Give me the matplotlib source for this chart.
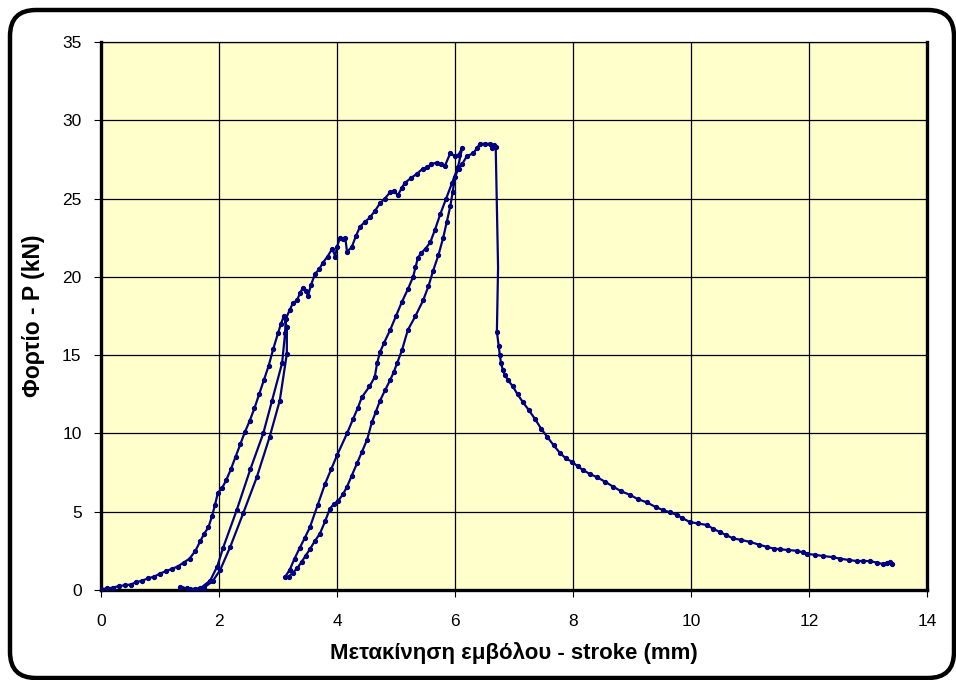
import numpy as np
import matplotlib
matplotlib.use("Agg")
import matplotlib.pyplot as plt
from matplotlib.patches import FancyBboxPatch

plt.rcParams['font.family'] = ['Liberation Sans', 'DejaVu Sans']

# stroke (mm) and load (kN), segment by segment
load1_x = [0.0, 0.1, 0.2, 0.3, 0.4, 0.5, 0.6, 0.7, 0.8, 0.9, 1.0, 1.1, 1.2, 1.3, 1.4, 1.5,
           1.6, 1.68, 1.75, 1.82, 1.88, 1.93, 1.98, 2.05, 2.12, 2.2, 2.28, 2.36, 2.44, 2.52,
           2.6, 2.68, 2.76, 2.84, 2.92, 3.0, 3.05, 3.1, 3.15]
load1_y = [0.05, 0.1, 0.15, 0.25, 0.3, 0.35, 0.5, 0.6, 0.75, 0.85, 1.05, 1.2, 1.35, 1.5, 1.75, 2.0,
           2.5, 3.1, 3.6, 4.0, 4.7, 5.4, 6.2, 6.5, 7.0, 7.7, 8.5, 9.3, 10.1, 10.8,
           11.6, 12.5, 13.4, 14.3, 15.4, 16.4, 17.0, 17.5, 16.8]

unload1_x = [3.15, 3.03, 2.86, 2.64, 2.41, 2.19, 2.02, 1.9, 1.75, 1.6, 1.45, 1.34]
unload1_y = [15.1, 12.1, 9.8, 7.2, 4.9, 2.75, 1.28, 0.6, 0.15, 0.05, 0.1, 0.2]

reload1_x = [1.5, 1.68, 1.85, 1.97, 2.07, 2.3, 2.53, 2.75, 2.9, 3.07, 3.12, 3.13, 3.2, 3.25,
             3.32, 3.38, 3.42, 3.47, 3.51, 3.56, 3.63, 3.7, 3.76, 3.84, 3.92, 3.97, 4.0, 4.05,
             4.1, 4.14, 4.17, 4.25, 4.32, 4.39, 4.47, 4.56, 4.64, 4.73, 4.81, 4.9, 4.97, 5.03,
             5.1, 5.15, 5.25, 5.36, 5.45, 5.53, 5.6, 5.69, 5.76, 5.83, 5.92, 6.0, 6.06, 6.12]
reload1_y = [0.05, 0.1, 0.6, 1.5, 2.7, 5.1, 7.7, 10.0, 12.1, 14.5, 16.4, 17.3, 17.9, 18.3,
             18.5, 19.0, 19.3, 19.1, 18.8, 19.5, 20.2, 20.5, 20.9, 21.3, 21.8, 21.3, 21.9, 22.5,
             22.4, 22.5, 21.6, 21.9, 22.6, 23.2, 23.5, 23.8, 24.2, 24.7, 25.0, 25.4, 25.5, 25.2,
             25.7, 26.0, 26.3, 26.6, 26.9, 27.0, 27.2, 27.3, 27.2, 27.1, 27.9, 27.7, 27.8, 28.2]

unload2_x = [6.05, 5.95, 5.85, 5.75, 5.66, 5.58, 5.5, 5.42, 5.37, 5.33, 5.29, 5.2, 5.1, 5.0,
             4.9, 4.8, 4.73, 4.68, 4.64, 4.55, 4.42, 4.35, 4.27, 4.17, 4.0, 3.9, 3.8, 3.67,
             3.54, 3.45, 3.37, 3.28, 3.2, 3.12]
unload2_y = [27.0, 26.0, 25.0, 24.0, 23.0, 22.2, 21.8, 21.5, 21.2, 20.6, 20.0, 19.2, 18.4, 17.5,
             16.6, 15.8, 15.2, 14.5, 13.6, 13.0, 12.3, 11.6, 10.9, 10.0, 8.6, 7.7, 6.8, 5.4,
             4.0, 3.3, 2.7, 2.0, 1.3, 0.83]

reload2_x = [3.18, 3.25, 3.33, 3.4, 3.47, 3.54, 3.62, 3.71, 3.8, 3.88, 3.95, 4.02, 4.1, 4.17,
             4.25, 4.34, 4.42, 4.51, 4.59, 4.66, 4.73, 4.82, 4.9, 4.96, 5.02, 5.1, 5.2, 5.33,
             5.46, 5.55, 5.63, 5.72, 5.8, 5.86, 5.92, 5.96, 6.0, 6.06, 6.12, 6.2, 6.31, 6.37,
             6.42, 6.5, 6.59, 6.63, 6.66, 6.69]
reload2_y = [0.85, 1.1, 1.4, 1.8, 2.2, 2.6, 3.1, 3.6, 4.4, 5.2, 5.5, 5.7, 6.1, 6.6,
             7.3, 8.1, 8.8, 9.6, 10.7, 11.4, 12.1, 12.8, 13.4, 13.9, 14.5, 15.3, 16.6, 17.5,
             18.5, 19.4, 20.4, 21.4, 22.5, 23.5, 24.5, 25.4, 26.4, 26.9, 27.2, 27.7, 27.9, 28.2,
             28.5, 28.5, 28.5, 28.2, 28.4, 28.3]

drop_x = [6.73, 6.71, 6.74, 6.76, 6.78, 6.81, 6.85, 6.9, 6.98, 7.06, 7.15, 7.25, 7.36, 7.46,
          7.56, 7.67, 7.78, 7.88, 7.98, 8.08, 8.17, 8.29, 8.41, 8.55, 8.68, 8.82, 8.97, 9.1,
          9.25, 9.4, 9.53, 9.65, 9.76, 9.85, 9.98, 10.12, 10.27, 10.38, 10.49, 10.6, 10.71,
          10.85, 11.0, 11.15, 11.29, 11.4, 11.51, 11.65, 11.8, 11.9, 11.97, 12.1, 12.24, 12.4,
          12.53, 12.67, 12.81, 12.92, 13.03, 13.15, 13.25, 13.33, 13.37, 13.4]
drop_y = [20.6, 16.5, 15.6, 15.0, 14.5, 14.05, 13.7, 13.4, 13.0, 12.5, 12.0, 11.5, 10.9, 10.3,
          9.8, 9.25, 8.75, 8.4, 8.2, 7.9, 7.66, 7.4, 7.2, 6.9, 6.6, 6.3, 6.07, 5.8,
          5.6, 5.3, 5.1, 4.95, 4.8, 4.6, 4.34, 4.25, 4.15, 3.9, 3.7, 3.5, 3.3,
          3.2, 3.07, 2.9, 2.75, 2.65, 2.6, 2.55, 2.5, 2.4, 2.3, 2.25, 2.17, 2.1,
          2.0, 1.92, 1.85, 1.85, 1.85, 1.75, 1.66, 1.7, 1.8, 1.66]

x_ticks = [0, 2, 4, 6, 8, 10, 12, 14]
y_ticks = [0, 5, 10, 15, 20, 25, 30, 35]

stroke = load1_x + unload1_x + reload1_x + unload2_x + reload2_x + drop_x
load = load1_y + unload1_y + reload1_y + unload2_y + reload2_y + drop_y

# no marker on the point in the middle of the sudden drop
n_before = len(stroke) - len(drop_x)
marks = [i for i in range(len(stroke)) if i != n_before]

fig = plt.figure(figsize=(9.56, 6.8), dpi=100)
ax = fig.add_axes([101/956, 90/680, 826/956, 548/680])
ax.set_facecolor('#FFFFCC')

ax.plot(stroke, load, color='#000080', lw=1.6, marker='o', ms=2.8,
        markevery=marks, zorder=3)

ax.set_xlim(0, 14)
ax.set_ylim(0, 35)
ax.set_xticks(x_ticks)
ax.set_yticks(y_ticks)
ax.grid(True, color='black', lw=0.9)
ax.tick_params(direction='out', length=5, width=0.8, labelsize=12.5, pad=12)
ax.tick_params(axis='y', pad=9)
for side in ['left', 'bottom', 'right']:
    ax.spines[side].set_linewidth(2.4)
ax.spines['top'].set_linewidth(0.9)
ax.set_xlabel('Μετακίνηση εμβόλου - stroke (mm)', fontsize=16, fontweight='bold', labelpad=10)
ax.set_ylabel('Φορτίο - P (kN)', fontsize=16.5, fontweight='bold', labelpad=12)

# rounded frame round the whole chart
frame = FancyBboxPatch((10, 2), 944, 668, boxstyle='round,pad=0,rounding_size=26',
                       transform=None, fill=False, ec='black', lw=3.2)
fig.add_artist(frame)

plt.savefig('out.png', dpi=100)
